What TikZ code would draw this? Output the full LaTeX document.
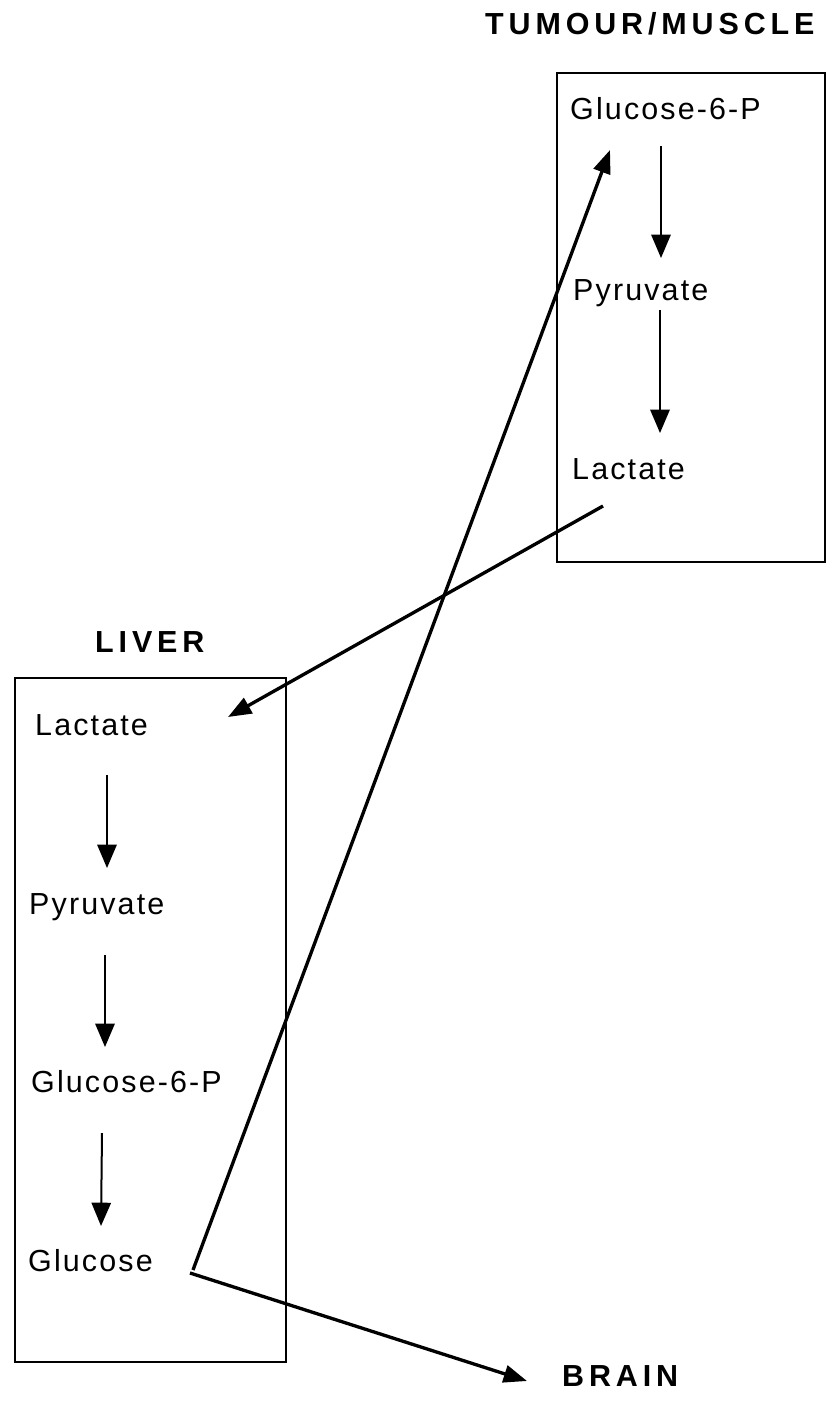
\documentclass[tikz,border=0pt]{standalone}
\usepackage{fontspec}
\setmainfont{Liberation Sans}
\newfontfamily\metfont[LetterSpace=7]{Liberation Sans}
\newfontfamily\organfont[LetterSpace=16]{Liberation Sans}
\usetikzlibrary{arrows.meta, positioning}

\tikzset{
  metab/.style={anchor=west, inner sep=0pt, text height=18.6pt, text depth=0pt,
    font=\metfont\fontsize{26}{30}\selectfont},
  organ/.style={anchor=west, inner sep=0pt, text height=18.6pt, text depth=0pt,
    font=\organfont\bfseries\fontsize{26}{30}\selectfont},
  panel/.style={draw, line width=0.6mm, inner sep=0pt},
  flow/.style={line width=0.6mm, -{Triangle[length=7mm, width=5.8mm]}},
  cycle/.style={line width=1mm, -{Triangle[length=7mm, width=5.2mm]}}
}

\begin{document}
\begin{tikzpicture}[x=0.3mm, y=-0.3mm]
  \useasboundingbox (0,0) rectangle (829,1407);

  % organs
  \node[organ] (tumour) at (485,24) {TUMOUR/MUSCLE};
  \node[organ] (liver) at (95,642) {LIVER};
  \node[organ] (brain) at (562,1376) {BRAIN};

  \node[panel, minimum width=80.4mm, minimum height=146.7mm] (tbox) at (691,317.5) {};
  \node[panel, minimum width=81.3mm, minimum height=205.2mm] (lbox) at (150.5,1020) {};

  % tumour/muscle
  \node[metab] (tg6p) at (570,109) {Glucose-6-P};
  \node[metab] (tpyr) at (573,290) {Pyruvate};
  \node[metab] (tlac) at (572,469) {Lactate};

  \draw[flow] ([shift={(91,37)}]tg6p.west) -- ([shift={(88,-32)}]tpyr.west);
  \draw[flow] ([shift={(87,20)}]tpyr.west) -- ([shift={(88,-36)}]tlac.west);

  % liver
  \node[metab] (llac) at (35,725) {Lactate};
  \node[metab] (lpyr) at (29,904) {Pyruvate};
  \node[metab] (lg6p) at (31,1082) {Glucose-6-P};
  \node[metab] (lglc) at (28,1261) {Glucose};

  \draw[flow] ([shift={(72,50)}]llac.west) -- ([shift={(78,-36)}]lpyr.west);
  \draw[flow] ([shift={(76,51)}]lpyr.west) -- ([shift={(74,-35)}]lg6p.west);
  \draw[flow] ([shift={(71,51)}]lg6p.west) -- ([shift={(73,-35)}]lglc.west);

  % exchange between organs
  \draw[cycle] ([shift={(165,9)}]lglc.west) -- ([shift={(40,41)}]tg6p.west);
  \draw[cycle] ([shift={(31,37)}]tlac.west) -- ([shift={(193,-8)}]llac.west);
  \draw[cycle] ([shift={(162,12)}]lglc.west) -- ([shift={(-35,5)}]brain.west);
\end{tikzpicture}
\end{document}
